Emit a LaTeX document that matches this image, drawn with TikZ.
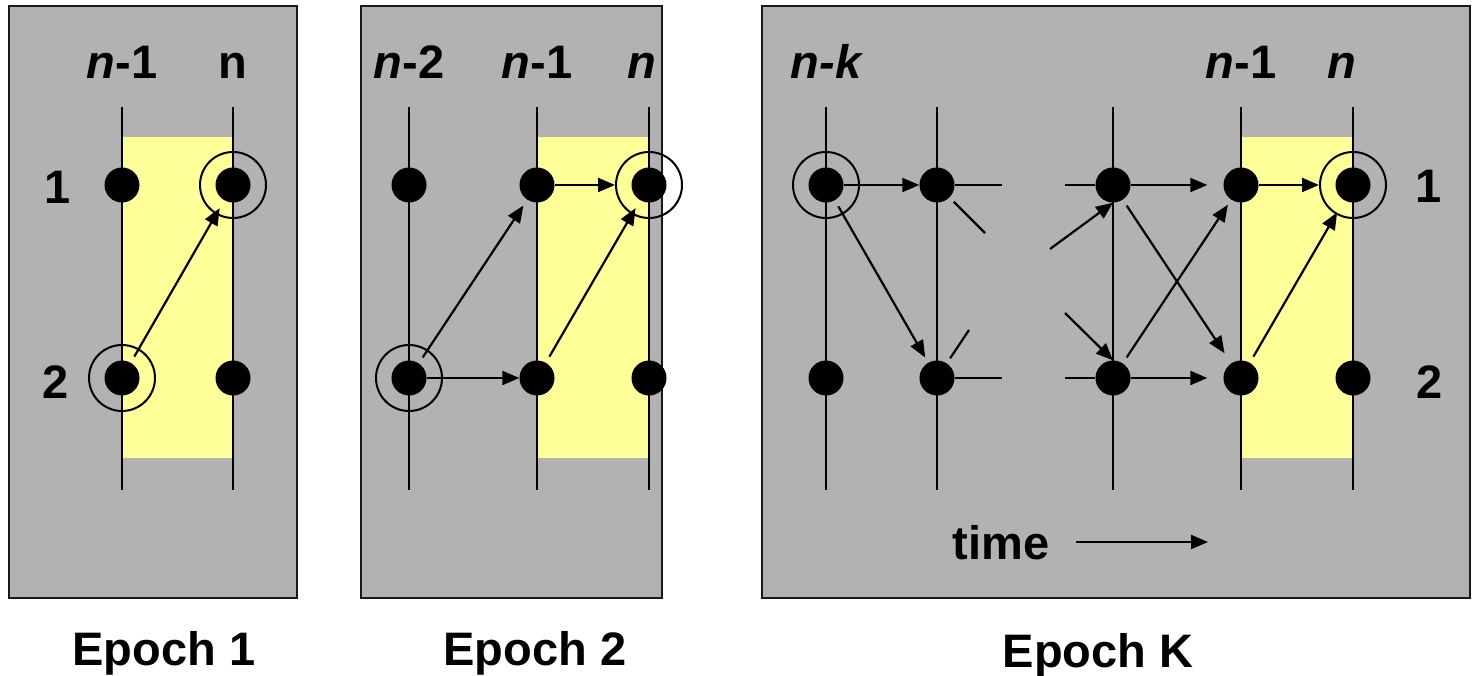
\documentclass[tikz,border=0pt]{standalone}
\usepackage{fontspec}
\setmainfont{Liberation Sans}
\usetikzlibrary{arrows.meta}
\definecolor{panelgray}{RGB}{178,178,178}
\definecolor{hl}{RGB}{255,255,153}
\begin{document}
\begin{tikzpicture}[x=1pt,y=-1pt,
  panel/.style={draw=black!90, line width=2.2pt, fill=panelgray},
  hlbox/.style={fill=hl, draw=none},
  tline/.style={line width=2.4pt},
  dot/.style={circle, fill=black, inner sep=0pt, minimum size=35pt},
  ring/.style={circle, draw=black, line width=2pt, inner sep=0pt, minimum size=66pt},
  arr/.style={line width=2.2pt, -{Triangle[length=17pt,width=14pt]}},
  diag/.style={arr, shorten <=7pt},
  stub/.style={line width=2.2pt},
  lbl/.style={font=\fontsize{47}{47}\selectfont\bfseries, anchor=base, inner sep=0pt},
]
\useasboundingbox (0,0) rectangle (1473,676);

% ---------- panels ----------
\draw[panel] (9,6) rectangle (297,598);
\draw[panel] (361,6) rectangle (662,598);
\draw[panel] (762,6) rectangle (1470,598);

\fill[hlbox] (122,137) rectangle (233,458);
\fill[hlbox] (537,137) rectangle (649,458);
\fill[hlbox] (1241,137) rectangle (1353,458);

% ---------- timelines ----------
\foreach \x in {122,233,409,537,649,826,937,1113,1241,1353}
  \draw[tline] (\x,107) -- (\x,490);

% ---------- labels ----------
\node[lbl] (h11) at (122,79) {\itshape n\upshape-1};
\node[lbl] (h12) at (233,79) {n};
\node[lbl] (r11) at (58,204) {1};
\node[lbl] (r12) at (56,399) {2};

\node[lbl] (h21) at (409,79) {\itshape n\upshape-2};
\node[lbl] (h22) at (537,79) {\itshape n\upshape-1};
\node[lbl] (h23) at (642,79) {\itshape n};

\node[lbl] (h31) at (826,79) {\itshape n-k};
\node[lbl] (h32) at (1241,79) {\itshape n\upshape-1};
\node[lbl] (h33) at (1342,79) {\itshape n};
\node[lbl] (r31) at (1429,203) {1};
\node[lbl] (r32) at (1430,398) {2};

\node[lbl] (e1) at (164,665) {Epoch 1};
\node[lbl] (e2) at (535,665) {Epoch 2};
\node[lbl] (e3) at (1098,667) {Epoch K};

% ---------- panel 1 ----------
\node[dot] (pA1) at (122,185) {};
\node[dot] (pA2) at (122,378) {};
\node[dot] (pB1) at (233,185) {};
\node[dot] (pB2) at (233,378) {};
\node[ring] (pRA2) at (122,378) {};
\node[ring] (pRB1) at (233,185) {};
\draw[diag, shorten >=9pt] (pA2) -- (pB1);

% ---------- panel 2 ----------
\node[dot] (qA1) at (409,185) {};
\node[dot] (qA2) at (409,378) {};
\node[dot] (qB1) at (537,185) {};
\node[dot] (qB2) at (537,378) {};
\node[dot] (qC1) at (649,185) {};
\node[dot] (qC2) at (649,378) {};
\node[ring] (qRA2) at (409,378) {};
\node[ring] (qRC1) at (649,185) {};
\draw[diag, shorten >=7pt] (qA2) -- (qB1);
\draw[arr] (qA2) -- (qB2);
\draw[arr] (qB1) -- (qRC1);
\draw[diag, shorten >=9pt] (qB2) -- (qC1);

% ---------- panel 3 ----------
\node[dot] (sA1) at (826,185) {};
\node[dot] (sA2) at (826,378) {};
\node[dot] (sB1) at (937,185) {};
\node[dot] (sB2) at (937,378) {};
\node[dot] (sC1) at (1113,185) {};
\node[dot] (sC2) at (1113,378) {};
\node[dot] (sD1) at (1241,185) {};
\node[dot] (sD2) at (1241,378) {};
\node[dot] (sE1) at (1353,185) {};
\node[dot] (sE2) at (1353,378) {};
\node[ring] (sRA1) at (826,185) {};
\node[ring] (sRE1) at (1353,185) {};

\coordinate (t1) at (1002,185);
\coordinate (t2) at (1002,378);
\coordinate (t3) at (985,233);
\coordinate (t4) at (969,330);
\coordinate (u1) at (1065,185);
\coordinate (u2) at (1065,378);
\coordinate (u3) at (1050,249);
\coordinate (u4) at (1065,313);

\draw[arr] (sA1) -- (sB1);
\draw[diag, shorten >=6pt] (sA1) -- (sB2);
\draw[stub] (sB1) -- (t1);
\draw[stub] (sB2) -- (t2);
\draw[stub, shorten <=6pt] (sB1) -- (t3);
\draw[stub, shorten <=6pt] (sB2) -- (t4);
\draw[stub] (u1) -- (sC1);
\draw[stub] (u2) -- (sC2);
\draw[arr] (u3) -- (sC1.south);
\draw[arr] (u4) -- (sC2.north);
\draw[arr, shorten >=16pt] (sC1) -- (sD1);
\draw[arr, shorten >=16pt] (sC2) -- (sD2);
\draw[diag, shorten >=12pt] (sC1) -- (sD2);
\draw[diag, shorten >=6pt] (sC2) -- (sD1);
\draw[arr] (sD1) -- (sRE1);
\draw[diag, shorten >=14pt] (sD2) -- (sE1);

% ---------- time arrow ----------
\node[lbl] (time) at (1001,559) {time};
\coordinate (tend) at (1208,542);
\draw[arr] ([xshift=26pt]time.east |- tend) -- (tend);
\end{tikzpicture}
\end{document}
